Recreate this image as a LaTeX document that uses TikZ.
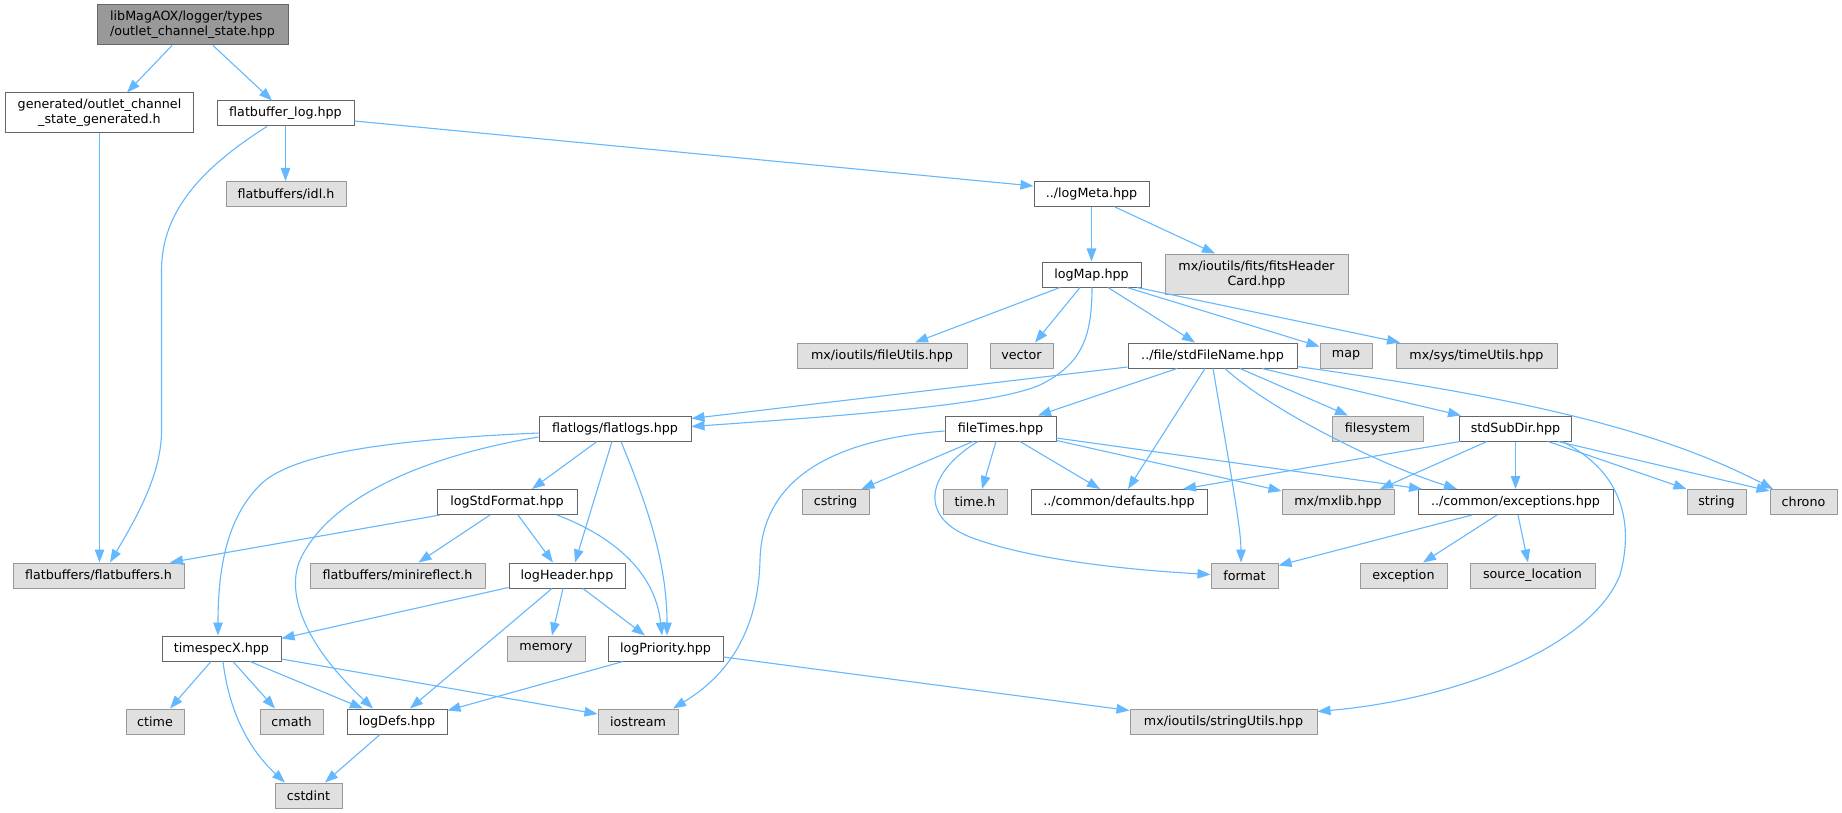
\documentclass[tikz,border=0pt]{standalone}
\usepackage{fontspec}
\setmainfont{DejaVu Sans}
\usetikzlibrary{arrows.meta,calc}
\definecolor{arestaazul}{HTML}{63B8FF}
\definecolor{caixacinza}{HTML}{E0E0E0}
\definecolor{raizcinza}{HTML}{999999}
\definecolor{bordacinza}{HTML}{666666}
\tikzset{
	arquivo/.style={draw=bordacinza, fill=white, line width=1pt, inner sep=0pt, minimum height=25pt, font=\fontsize{12.7}{15}\selectfont, align=center},
	sistema/.style={arquivo, draw=raizcinza, fill=caixacinza},
	raiz/.style={arquivo, fill=raizcinza, minimum height=40pt, align=left},
	dep/.style={draw=arestaazul, line width=1.1pt, -{Triangle[length=13pt,width=9.5pt]}},
}
\begin{document}
\begin{tikzpicture}[x=1pt,y=-1pt] %Início do desenho, unidades em pixels
	\useasboundingbox (0,0) rectangle (1842,813);
	\fill[white] (0,0) rectangle (1842,813);
		%Arquivos
	\node[raiz, minimum width=191pt] (root) at (192.5,25) {libMagAOX/logger/types\\/outlet\_channel\_state.hpp};
	\node[arquivo, minimum width=188pt, minimum height=40pt] (gen) at (99.5,113) {generated/outlet\_channel\\\_state\_generated.h};
	\node[arquivo, minimum width=137pt] (fblog) at (285.5,113.5) {flatbuffer\_log.hpp};
	\node[sistema, minimum width=120pt] (idl) at (286,194) {flatbuffers/idl.h};
	\node[arquivo, minimum width=115pt] (meta) at (1091.5,194) {../logMeta.hpp};
	\node[sistema, minimum width=183pt, minimum height=40pt] (fits) at (1256.5,274) {mx/ioutils/fits/fitsHeader\\Card.hpp};
	\node[arquivo, minimum width=99pt] (lmap) at (1091.5,274.5) {logMap.hpp};
	\node[sistema, minimum width=170pt] (futils) at (882,355.5) {mx/ioutils/fileUtils.hpp};
	\node[sistema, minimum width=63pt] (vec) at (1021.5,355.5) {vector};
	\node[arquivo, minimum width=169pt] (sfn) at (1212.5,355.5) {../file/stdFileName.hpp};
	\node[sistema, minimum width=52pt] (map) at (1346,355.5) {map};
	\node[sistema, minimum width=161pt] (tutils) at (1476.5,355.5) {mx/sys/timeUtils.hpp};
	\node[arquivo, minimum width=152pt] (flogs) at (615,428.5) {flatlogs/flatlogs.hpp};
	\node[arquivo, minimum width=111pt] (ftimes) at (1000.5,428.5) {fileTimes.hpp};
	\node[sistema, minimum width=91pt] (fsys) at (1377.5,428.5) {filesystem};
	\node[arquivo, minimum width=112pt] (ssd) at (1515.5,428.5) {stdSubDir.hpp};
	\node[arquivo, minimum width=140pt] (lsf) at (507,502) {logStdFormat.hpp};
	\node[sistema, minimum width=67pt] (cstr) at (835.5,502) {cstring};
	\node[sistema, minimum width=64pt] (timeh) at (975,502) {time.h};
	\node[arquivo, minimum width=176pt] (defs) at (1119,502) {../common/defaults.hpp};
	\node[sistema, minimum width=112pt] (mxlib) at (1338,502) {mx/mxlib.hpp};
	\node[arquivo, minimum width=195pt] (exc) at (1515.5,502) {../common/exceptions.hpp};
	\node[sistema, minimum width=59pt] (str) at (1716.5,502) {string};
	\node[sistema, minimum width=67pt] (chrono) at (1803.5,502) {chrono};
	\node[sistema, minimum width=171pt] (fbh) at (98.5,575.5) {flatbuffers/flatbuffers.h};
	\node[sistema, minimum width=175pt] (mini) at (397.5,575.5) {flatbuffers/minireflect.h};
	\node[arquivo, minimum width=116pt] (lhdr) at (567,575.5) {logHeader.hpp};
	\node[sistema, minimum width=67pt] (fmt) at (1244.5,575.5) {format};
	\node[sistema, minimum width=87pt] (excn) at (1403.5,575.5) {exception};
	\node[sistema, minimum width=125pt] (srcloc) at (1532.5,575.5) {source\_location};
	\node[arquivo, minimum width=119pt] (tsx) at (221.5,648.5) {timespecX.hpp};
	\node[sistema, minimum width=78pt] (mem) at (546,648.5) {memory};
	\node[arquivo, minimum width=115pt] (lprio) at (665.5,648.5) {logPriority.hpp};
	\node[sistema, minimum width=58pt] (ctime) at (155,721.5) {ctime};
	\node[sistema, minimum width=63pt] (cmath) at (291.5,721.5) {cmath};
	\node[arquivo, minimum width=100pt] (ldefs) at (397,721.5) {logDefs.hpp};
	\node[sistema, minimum width=80pt] (ios) at (638,721.5) {iostream};
	\node[sistema, minimum width=187pt] (sutils) at (1223.5,721.5) {mx/ioutils/stringUtils.hpp};
	\node[sistema, minimum width=67pt] (cstdint) at (308.5,795.5) {cstdint};
		%Dependências
	\draw[dep] ($(root.south)+(-20.5,0)$) -- ($(gen.north)+(27.5,0)$);
	\draw[dep] ($(root.south)+(20.5,0)$) -- ($(fblog.north)+(-13.5,0)$);
	\draw[dep] (gen.south) -- (gen.south |- fbh.north);
	\draw[dep] ($(fblog.south)+(-18.5,0)$) .. controls (190,175) and (161.5,220) .. (161.5,271) -- (161.5,431) .. controls (161.5,475) and (135,520) .. ($(fbh.north)+(11.5,0)$);
	\draw[dep] (fblog.south) -- (fblog.south |- idl.north);
	\draw[dep] ($(fblog.east)+(0,7.5)$) -- ($(meta.west)+(0,-8)$);
	\draw[dep] (meta) -- (lmap);
	\draw[dep] ($(meta.south)+(23.5,0)$) -- ($(fits.north)+(-41.5,0)$);
	\draw[dep] ($(lmap.south)+(-31.5,0)$) -- ($(futils.north)+(33,0)$);
	\draw[dep] ($(lmap.south)+(-11.5,0)$) -- ($(vec.north)+(13.5,0)$);
	\draw[dep] ($(lmap.south)+(0.5,0)$) .. controls (1092,340) and (1080,365) .. (1040,385) .. controls (1000,402) and (900,412) .. ($(flogs.east)+(0,-2)$);
	\draw[dep] ($(lmap.south)+(16.5,0)$) -- ($(sfn.north)+(-17.5,0)$);
	\draw[dep] ($(lmap.south)+(35.5,0)$) -- ($(map.west)+(0,-9)$);
	\draw[dep] ($(lmap.south)+(45.5,0)$) -- ($(tutils.north)+(-76.5,0)$);
	\draw[dep] ($(sfn.west)+(0,11.5)$) -- ($(flogs.east)+(0,-10)$);
	\draw[dep] ($(sfn.south)+(-35.5,0)$) -- ($(ftimes.north)+(37.5,0)$);
	\draw[dep] ($(sfn.south)+(-7.5,0)$) -- ($(defs.north)+(9,0)$);
	\draw[dep] ($(sfn.south)+(0.5,0)$) .. controls (1232,480) and (1241,530) .. ($(fmt.north)+(-3.5,0)$);
	\draw[dep] ($(sfn.south)+(12.5,0)$) .. controls (1270,410) and (1380,465) .. ($(exc.north)+(-58.5,0)$);
	\draw[dep] ($(sfn.south)+(27.5,0)$) -- ($(fsys.north)+(-29.5,0)$);
	\draw[dep] ($(sfn.south)+(49.5,0)$) -- ($(ssd.north)+(-54.5,0)$);
	\draw[dep] ($(sfn.east)+(0,11)$) .. controls (1500,395) and (1650,425) .. ($(chrono.north)+(-30.5,0)$);
	\draw[dep] ($(flogs.west)+(0,4.5)$) .. controls (380,440) and (290,455) .. (260,485) .. controls (230,515) and (218,560) .. ($(tsx.north)+(-3.5,0)$);
	\draw[dep] ($(flogs.west)+(0,8.5)$) .. controls (430,455) and (330,495) .. (300,560) .. controls (287,590) and (300,640) .. ($(ldefs.north)+(-24,0)$);
	\draw[dep] ($(flogs.south)+(-18,0)$) -- ($(lsf.north)+(25,0)$);
	\draw[dep] ($(flogs.south)+(-3,0)$) -- ($(lhdr.north)+(8,0)$);
	\draw[dep] ($(flogs.south)+(6,0)$) .. controls (645,500) and (667,560) .. ($(lprio.north)+(1.5,0)$);
	\draw[dep] ($(lsf.south)+(-67,0)$) -- ($(fbh.north)+(71.5,0)$);
	\draw[dep] ($(lsf.south)+(-17,0)$) -- ($(mini.north)+(21,0)$);
	\draw[dep] ($(lsf.south)+(11,0)$) -- ($(lhdr.north)+(-14,0)$);
	\draw[dep] ($(lsf.south)+(50,0)$) .. controls (610,535) and (655,570) .. ($(lprio.north)+(-3.5,0)$);
	\draw[dep] ($(lhdr.west)+(0,12)$) -- ($(tsx.east)+(0,-10)$);
	\draw[dep] ($(lhdr.south)+(-4,0)$) -- ($(mem.north)+(6,0)$);
	\draw[dep] ($(lhdr.south)+(16,0)$) -- ($(lprio.north)+(-20.5,0)$);
	\draw[dep] ($(lhdr.south)+(-15,0)$) -- ($(ldefs.north)+(13,0)$);
	\draw[dep] ($(tsx.south)+(-10.5,0)$) -- ($(ctime.north)+(15,0)$);
	\draw[dep] ($(tsx.south)+(11.5,0)$) -- ($(cmath.north)+(-16.5,0)$);
	\draw[dep] ($(tsx.south)+(28.5,0)$) -- ($(ldefs.north)+(-34,0)$);
	\draw[dep] ($(tsx.south)+(1.5,0)$) .. controls (230,720) and (255,755) .. ($(cstdint.north)+(-23.5,0)$);
	\draw[dep] ($(tsx.east)+(0,10.5)$) -- ($(ios.west)+(0,-7.5)$);
	\draw[dep] ($(ldefs.south)+(-17,0)$) -- ($(cstdint.north)+(16.5,0)$);
	\draw[dep] ($(lprio.south)+(-42.5,0)$) -- ($(ldefs.east)+(0,-11)$);
	\draw[dep] ($(lprio.east)+(0,8.5)$) -- ($(sutils.west)+(0,-11)$);
	\draw[dep] ($(ftimes.south)+(-27.5,0)$) -- ($(cstr.north)+(26,0)$);
	\draw[dep] ($(ftimes.south)+(-4.5,0)$) -- ($(timeh.north)+(7,0)$);
	\draw[dep] ($(ftimes.south)+(19.5,0)$) -- ($(defs.north)+(-19,0)$);
	\draw[dep] ($(ftimes.east)+(0,12)$) -- ($(mxlib.west)+(0,-11)$);
	\draw[dep] ($(ftimes.east)+(0,9.5)$) -- ($(exc.north)+(-93.5,0)$);
	\draw[dep] ($(ftimes.west)+(0,2.5)$) .. controls (830,440) and (762,480) .. (760,560) .. controls (758,640) and (720,680) .. ($(ios.north)+(35,0)$);
	\draw[dep] ($(ftimes.south)+(-22.5,0)$) .. controls (930,470) and (915,515) .. (970,537) .. controls (1030,560) and (1130,570) .. ($(fmt.west)+(0,-1)$);
	\draw[dep] ($(ssd.south)+(-55.5,0)$) -- ($(defs.north)+(64,0)$);
	\draw[dep] ($(ssd.south)+(-28.5,0)$) -- ($(mxlib.north)+(42,0)$);
	\draw[dep] (ssd.south) -- (ssd.south |- exc.north);
	\draw[dep] ($(ssd.south)+(32.5,0)$) -- ($(str.north)+(-30,0)$);
	\draw[dep] ($(ssd.south)+(42.5,0)$) -- ($(chrono.west)+(0,-11)$);
	\draw[dep] ($(ssd.south)+(46.5,0)$) .. controls (1620,470) and (1635,520) .. (1620,575) .. controls (1590,650) and (1450,700) .. ($(sutils.east)+(0,-10)$);
	\draw[dep] ($(exc.south)+(-43.5,0)$) -- ($(fmt.east)+(0,-10)$);
	\draw[dep] ($(exc.south)+(-18.5,0)$) -- ($(excn.north)+(19.5,0)$);
	\draw[dep] ($(exc.south)+(2.5,0)$) -- ($(srcloc.north)+(-4.5,0)$);
\end{tikzpicture}
\end{document}
